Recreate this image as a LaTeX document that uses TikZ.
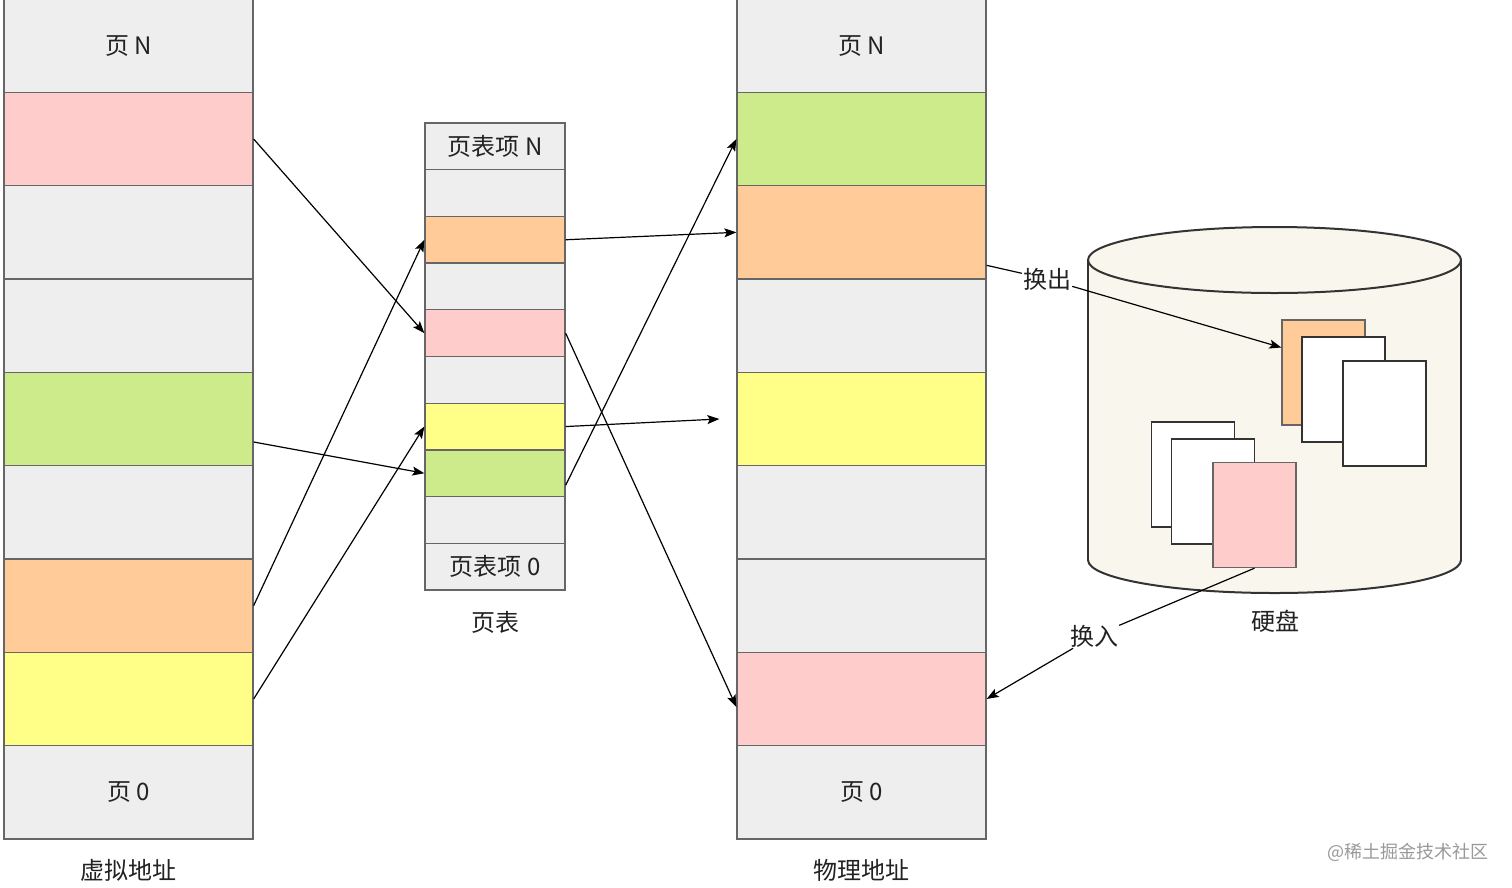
\documentclass[tikz,border=0pt]{standalone}
\usepackage{fontspec}
\setmainfont{Noto Sans CJK SC}
\usetikzlibrary{arrows.meta,calc}
\definecolor{cgrey}{HTML}{EEEEEE}
\definecolor{cpink}{HTML}{FFCCCC}
\definecolor{cgreen}{HTML}{CDEB8B}
\definecolor{corange}{HTML}{FFCC99}
\definecolor{cyellow}{HTML}{FFFF88}
\definecolor{cstroke}{HTML}{666666}
\definecolor{ctext}{HTML}{222222}
\definecolor{cylfill}{HTML}{F9F7ED}
\definecolor{cylline}{HTML}{333333}
\newcommand{\lblfont}{\fontsize{24}{28}\selectfont\color{ctext}}
\begin{document}
\begin{tikzpicture}[x=1pt,y=-1pt,
  cell/.style={draw=cstroke, line width=1.3pt, minimum width=249pt, minimum height=93.33pt, inner sep=0pt, font=\lblfont},
  tcell/.style={draw=cstroke, line width=1.3pt, minimum width=140pt, minimum height=46.7pt, inner sep=0pt, font=\lblfont},
  dpage/.style={draw=cylline, line width=1.3pt, fill=white, minimum width=83pt, minimum height=105pt, inner sep=0pt},
  arr/.style={draw=black, line width=1.2pt, -{Stealth[length=12pt,width=9pt,inset=2.5pt]}},
  ln/.style={draw=black, line width=1.2pt},
  txt/.style={font=\lblfont, inner sep=2pt},
  elbl/.style={font=\lblfont, fill=white, inner sep=1pt}]
\useasboundingbox (0,0) rectangle (1512,887);
\fill[white] (0,0) rectangle (1512,887);

% virtual address column
\foreach \i/\c/\t in {0/cgrey/页 N,1/cpink/,2/cgrey/,3/cgrey/,4/cgreen/,5/cgrey/,6/corange/,7/cyellow/,8/cgrey/页 0}
  \node[cell, fill=\c] (v\i) at (128.5,{-1+93.33*(\i+0.5)}) {\t};
% physical address column
\foreach \i/\c/\t in {0/cgrey/页 N,1/cgreen/,2/corange/,3/cgrey/,4/cyellow/,5/cgrey/,6/cgrey/,7/cpink/,8/cgrey/页 0}
  \node[cell, fill=\c] (p\i) at (861.5,{-1+93.33*(\i+0.5)}) {\t};
% page table
\foreach \i/\c/\t in {0/cgrey/页表项 N,1/cgrey/,2/corange/,3/cgrey/,4/cpink/,5/cgrey/,6/cyellow/,7/cgreen/,8/cgrey/,9/cgrey/页表项 0}
  \node[tcell, fill=\c] (t\i) at (495,{123+46.7*(\i+0.5)}) {\t};

% labels
\node[txt] (lv) at (128,870) {虚拟地址};
\node[txt] (lt) at (495,622) {页表};
\node[txt] (lp) at (861,870) {物理地址};
\node[txt] (ld) at (1275,621) {硬盘};
\node[font=\fontsize{18}{22}\selectfont, text=black!40] (wm) at (1408,852) {@稀土掘金技术社区};

% disk cylinder
\fill[cylfill] (1088,260) rectangle (1461,560);
\begin{scope}
  \clip (1080,560) rectangle (1470,600);
  \filldraw[fill=cylfill, draw=cylline, line width=2pt] (1274.5,560) ellipse [x radius=186.5, y radius=33];
\end{scope}
\draw[cylline, line width=2pt] (1088,260) -- (1088,560) (1461,260) -- (1461,560);
\filldraw[fill=cylfill, draw=cylline, line width=2pt] (1274.5,260) ellipse [x radius=186.5, y radius=33];

% pages on disk
\node[dpage, fill=corange, draw=cstroke] (d1) at (1323.5,372.5) {};
\node[dpage] (d2) at (1343.5,389.5) {};
\node[dpage] (d3) at (1384.5,413.5) {};
\node[dpage] (d4) at (1193,474.5) {};
\node[dpage] (d5) at (1213,491.5) {};
\node[dpage, fill=cpink, draw=cstroke] (d6) at (1254.5,515) {};

% mapping virtual -> page table
\draw[arr] (v1.east) -- (t4.west);
\draw[arr] ($(v4.east)+(0,23)$) -- (t7.west);
\draw[arr] (v6.east) -- (t2.west);
\draw[arr] (v7.east) -- (t6.west);

% page table -> physical
\coordinate (yfree) at ($(p4.west)+(-17,0)$);
\draw[arr] (t2.east) -- (p2.west);
\draw[arr] (t4.east) -- ($(p7.west)+(0,8)$);
\draw[arr] (t6.east) -- (yfree);
\draw[arr] ($(t7.east)+(0,12)$) -- (p1.west);

% swap out / swap in
\node[elbl] (so) at (1047,279) {换出};
\draw[ln] ($(p2.east)+(0,33)$) -- (so);
\draw[arr] (so) -- ($(d1.west)+(0,-25)$);
\node[elbl] (si) at (1094,636) {换入};
\draw[ln] (d6.south) -- (si);
\draw[arr] (si) -- (p7.east);
\end{tikzpicture}
\end{document}
